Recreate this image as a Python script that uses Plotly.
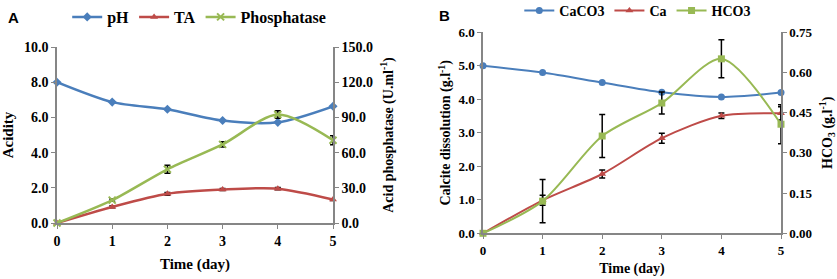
import plotly.graph_objects as go

days = [0, 1, 2, 3, 4, 5]

# Panel A
ph = [8.0, 6.87, 6.46, 5.82, 5.72, 6.63]
ta = [0.0, 0.91, 1.66, 1.90, 1.95, 1.33]
ta_err = [0.0, 0.05, 0.08, 0.06, 0.06, 0.05]
phosphatase = [0.0, 19.5, 45.8, 67.0, 92.4, 70.5]
phosphatase_err = [0.0, 1.0, 3.5, 2.2, 3.2, 3.8]

# Panel B
caco3 = [5.0, 4.8, 4.5, 4.21, 4.07, 4.2]
ca = [0.0, 0.985, 1.77, 2.84, 3.51, 3.58]
ca_err = [0.0, 0.15, 0.12, 0.15, 0.08, 0.2]
hco3 = [0.0, 0.12, 0.363, 0.486, 0.651, 0.407]
hco3_err = [0.0, 0.081, 0.08, 0.041, 0.071, 0.073]

BLUE = "#4A7EBB"
RED = "#BE4B48"
GREEN = "#98B954"
AX = "#868686"
SERIF = "Times New Roman, Liberation Serif, serif"

fig = go.Figure()

def err(arr):
    return dict(type="data", array=arr, color="black", thickness=1.5, width=3)

# Panel A traces
fig.add_trace(go.Scatter(x=days, y=ph, name="pH", mode="lines+markers",
    line=dict(color=BLUE, width=2.5, shape="spline", smoothing=0.8),
    marker=dict(symbol="diamond", size=7, color=BLUE),
    xaxis="x", yaxis="y", legend="legend", cliponaxis=False))
fig.add_trace(go.Scatter(x=days, y=ta, name="TA", mode="lines+markers",
    line=dict(color=RED, width=2.5, shape="spline", smoothing=0.8),
    marker=dict(symbol="triangle-up", size=7, color=RED),
    error_y=err(ta_err),
    xaxis="x", yaxis="y", legend="legend", cliponaxis=False))
fig.add_trace(go.Scatter(x=days, y=phosphatase, name="Phosphatase", mode="lines+markers",
    line=dict(color=GREEN, width=2.5, shape="spline", smoothing=0.8),
    marker=dict(symbol="x-thin", size=7, color=GREEN, line=dict(color=GREEN, width=2)),
    error_y=err(phosphatase_err),
    xaxis="x", yaxis="y2", legend="legend", cliponaxis=False))

# Panel B traces
fig.add_trace(go.Scatter(x=days, y=caco3, name="CaCO3", mode="lines+markers",
    line=dict(color=BLUE, width=2, shape="spline", smoothing=0.8),
    marker=dict(symbol="circle", size=7, color=BLUE),
    xaxis="x2", yaxis="y3", legend="legend2", cliponaxis=False))
fig.add_trace(go.Scatter(x=days, y=ca, name="Ca", mode="lines+markers",
    line=dict(color=RED, width=2, shape="spline", smoothing=0.8),
    marker=dict(symbol="triangle-up", size=7, color=RED),
    error_y=err(ca_err),
    xaxis="x2", yaxis="y3", legend="legend2", cliponaxis=False))
fig.add_trace(go.Scatter(x=days, y=hco3, name="HCO3", mode="lines+markers",
    line=dict(color=GREEN, width=2, shape="spline", smoothing=0.8),
    marker=dict(symbol="square", size=7, color=GREEN),
    error_y=err(hco3_err),
    xaxis="x2", yaxis="y4", legend="legend2", cliponaxis=False))

W, H = 837, 279
def px_x(a, b):
    return [a / W, b / W]
def px_y(top, bottom):
    return [1 - bottom / H, 1 - top / H]

def tfont(size):
    return dict(family=SERIF, size=size, color="black", weight="bold")

axis_common = dict(showline=True, linecolor=AX, linewidth=1.5, ticks="outside",
                   tickcolor=AX, ticklen=4, showgrid=False, zeroline=False,
                   automargin=False)

fig.update_layout(
    width=W, height=H, margin=dict(l=0, r=0, t=0, b=0, autoexpand=False),
    paper_bgcolor="white", plot_bgcolor="white", showlegend=True,
    font=dict(family=SERIF, color="black"),
    xaxis=dict(domain=px_x(57, 333), anchor="y", range=[0, 5], dtick=1,
               tickfont=tfont(14),
               title=dict(text="Time (day)", font=tfont(15), standoff=11),
               **axis_common),
    yaxis=dict(domain=px_y(47, 223), anchor="x", range=[0, 10], dtick=2, tickformat=".1f",
               tickfont=tfont(14),
               title=dict(text="Acidity", font=tfont(15), standoff=8),
               **axis_common),
    yaxis2=dict(domain=px_y(47, 223), anchor="x", overlaying="y", side="right",
                range=[0, 150], dtick=30, tickformat=".1f",
                tickfont=tfont(14),
                title=dict(text="Acid phosphatase (U.ml<sup>-1</sup>)", font=tfont(14), standoff=11),
                **axis_common),
    xaxis2=dict(domain=px_x(483, 781), anchor="y3", range=[0, 5], dtick=1,
                tickfont=tfont(13),
                title=dict(text="Time (day)", font=tfont(14), standoff=7),
                **axis_common),
    yaxis3=dict(domain=px_y(32.3, 233.3), anchor="x2", range=[0, 6], dtick=1, tickformat=".1f",
                tickfont=tfont(13),
                title=dict(text="Calcite dissolution (g.l<sup>-1</sup>)", font=tfont(14), standoff=4),
                **axis_common),
    yaxis4=dict(domain=px_y(32.3, 233.3), anchor="x2", overlaying="y3", side="right",
                range=[0, 0.75], dtick=0.15, tickformat=".2f",
                tickfont=tfont(13),
                title=dict(text="HCO<sub>3</sub> (g.l<sup>-1</sup>)", font=tfont(14), standoff=11),
                **axis_common),
    legend=dict(orientation="h", x=0.238, xanchor="center", y=1 - 17 / H, yanchor="middle",
                font=tfont(16), bgcolor="rgba(0,0,0,0)",
                itemwidth=30, tracegroupgap=0),
    legend2=dict(orientation="h", x=0.762, xanchor="center", y=1 - 11 / H, yanchor="middle",
                 font=tfont(14), bgcolor="rgba(0,0,0,0)",
                 itemwidth=30, tracegroupgap=0),
    annotations=[
        dict(text="<b>A</b>", x=6 / W, y=1 - 18 / H, xref="paper", yref="paper",
             xanchor="left", yanchor="middle", showarrow=False,
             font=dict(family="Liberation Sans", size=15, color="black")),
        dict(text="<b>B</b>", x=437 / W, y=1 - 16 / H, xref="paper", yref="paper",
             xanchor="left", yanchor="middle", showarrow=False,
             font=dict(family="Liberation Sans", size=15, color="black")),
    ],
)

fig.write_html("out.html", config={"displayModeBar": False},
               post_script="document.body.style.margin='0';")
